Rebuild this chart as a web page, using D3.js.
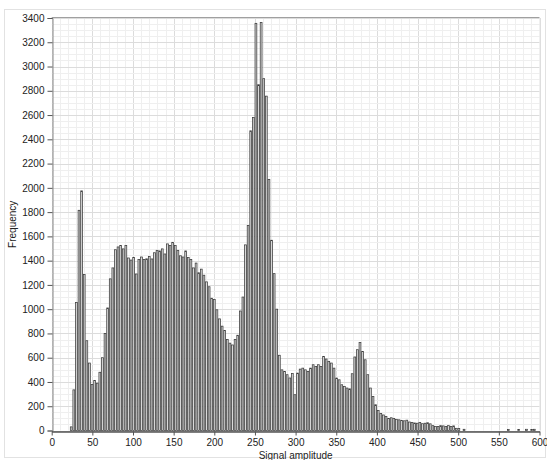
<!DOCTYPE html>
<html>
<head>
<meta charset="utf-8">
<script src="https://cdn.jsdelivr.net/npm/d3@7.9.0/dist/d3.min.js"></script>
<style>
  body { margin: 0; background: #fff; }
  svg { display: block; font-family: "Liberation Sans", Arial, sans-serif; }
</style>
</head>
<body>
<svg id="chart" width="547" height="460"></svg>
<script>
// histogram bins: width in amplitude units, counts start at firstBin
const binWidth = 3.2;
const firstBin = 7;
const counts = [
  30, 335, 1056, 1815, 1975, 1285, 740, 556, 380, 413, 390, 480, 600, 800, 1010,
  1250, 1340, 1490, 1513, 1524, 1497, 1524, 1422, 1405, 1427, 1290, 1410, 1430, 1410, 1415,
  1435, 1414, 1465, 1485, 1480, 1497, 1455, 1538, 1525, 1551, 1525, 1485, 1440, 1430, 1480,
  1425, 1410, 1340, 1380, 1300, 1330, 1280, 1225, 1185, 1090, 1080, 995, 920, 860, 825,
  750, 720, 705, 750, 785, 985, 1100, 1530, 1690, 2470, 2580, 3356, 2850, 3362, 2900,
  2756, 2070, 1568, 1293, 1000, 620, 500, 487, 460, 433, 470, 295, 473, 506, 514,
  500, 487, 514, 542, 528, 542, 528, 611, 589, 570, 556, 514, 432, 418, 377,
  363, 350, 343, 468, 606, 666, 726, 652, 583, 460, 350, 281, 212, 165, 140,
  128, 115, 100, 105, 100, 92, 88, 82, 80, 85, 70, 66, 62, 60, 66,
  56, 60, 64, 55, 40, 34, 34, 40, 38, 33, 40, 33, 38, 18, 16
];
// a few isolated bins in the far tail
const tailBins = [158, 175, 179, 182, 184, 185];
const tailCounts = [10, 8, 8, 10, 8, 10];

const xTicks = [0, 50, 100, 150, 200, 250, 300, 350, 400, 450, 500, 550, 600];
const yTicks = [0, 200, 400, 600, 800, 1000, 1200, 1400, 1600, 1800, 2000, 2200, 2400,
  2600, 2800, 3000, 3200, 3400];
const xLabel = 'Signal amplitude';
const yLabel = 'Frequency';

const bins = counts.map((c, i) => ({ bin: firstBin + i, value: c }))
  .concat(tailBins.map((b, i) => ({ bin: b, value: tailCounts[i] })));

const svg = d3.select('#chart');
const plotLeft = 51.7, plotRight = 539.5, plotTop = 18, plotBottom = 430.5;

const x = d3.scaleLinear().domain([0, 600]).range([plotLeft, plotRight]);
const y = d3.scaleLinear().domain([0, 3400]).range([plotBottom, plotTop]);

// outer panel border
svg.append('rect')
  .attr('x', 4.5).attr('y', 9.5).attr('width', 541).attr('height', 448)
  .attr('fill', 'none').attr('stroke', '#e2e2e2');

// grid
const grid = svg.append('g');
d3.range(0, 601, 10).forEach(v => {
  grid.append('line')
    .attr('x1', Math.round(x(v)) + 0.5).attr('x2', Math.round(x(v)) + 0.5)
    .attr('y1', plotTop).attr('y2', plotBottom)
    .attr('stroke', v % 50 === 0 ? '#dcdcdc' : '#efefef');
});
d3.range(0, 3401, 50).forEach(v => {
  grid.append('line')
    .attr('x1', plotLeft).attr('x2', plotRight)
    .attr('y1', Math.round(y(v)) + 0.5).attr('y2', Math.round(y(v)) + 0.5)
    .attr('stroke', v % 200 === 0 ? '#dcdcdc' : '#efefef');
});

// frame
svg.append('line').attr('x1', plotLeft).attr('x2', plotRight)
  .attr('y1', plotTop - 0.5).attr('y2', plotTop - 0.5).attr('stroke', '#a0a0a0');
svg.append('line').attr('x1', plotRight + 0.5).attr('x2', plotRight + 0.5)
  .attr('y1', plotTop).attr('y2', plotBottom).attr('stroke', '#e0e0e0');

// bars
svg.append('g').selectAll('rect')
  .data(bins)
  .join('rect')
    .attr('x', d => x(d.bin * binWidth) + 0.4)
    .attr('y', d => y(d.value))
    .attr('width', d => x((d.bin + 1) * binWidth) - x(d.bin * binWidth) - 0.8)
    .attr('height', d => y(0) - y(d.value))
    .attr('fill', '#dadada')
    .attr('stroke', '#3a3a3a')
    .attr('stroke-width', 0.75);

// axes
const yAxis = svg.append('g')
  .attr('transform', `translate(${Math.round(plotLeft) + 0.5},0)`)
  .call(d3.axisLeft(y).tickValues(yTicks).tickFormat(d3.format('d')).tickSize(5).tickPadding(3));
yAxis.select('.domain').attr('stroke', '#888');
yAxis.selectAll('.tick line').attr('stroke', '#555');

const xAxis = svg.append('g')
  .attr('transform', `translate(0,${Math.round(plotBottom) + 0.5})`)
  .call(d3.axisBottom(x).tickValues(xTicks).tickFormat(d3.format('d'))
    .tickSize(4).tickPadding(3).tickSizeOuter(0));
xAxis.select('.domain').attr('stroke', '#000');
xAxis.selectAll('.tick line').attr('stroke', '#555');

svg.selectAll('.tick text')
  .attr('font-family', '"Liberation Sans", Arial, sans-serif')
  .attr('font-size', 10)
  .attr('fill', '#222');

// labels
svg.append('text')
  .attr('x', (plotLeft + plotRight) / 2).attr('y', 459)
  .attr('text-anchor', 'middle')
  .attr('font-size', 10).attr('fill', '#222')
  .text(xLabel);

svg.append('text')
  .attr('transform', `translate(16,${(plotTop + plotBottom) / 2}) rotate(-90)`)
  .attr('text-anchor', 'middle')
  .attr('font-size', 10).attr('fill', '#222')
  .text(yLabel);
</script>
</body>
</html>
